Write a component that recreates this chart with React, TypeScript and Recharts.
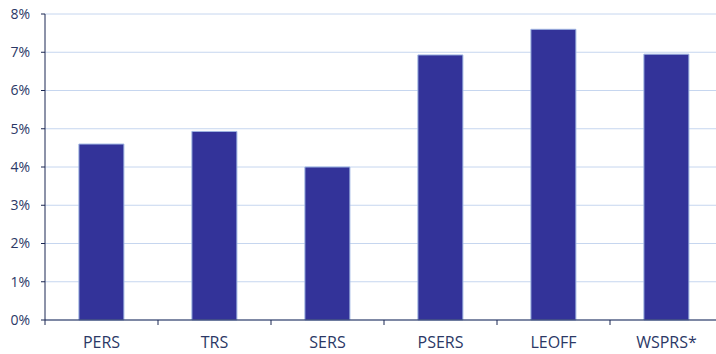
import { BarChart, Bar, XAxis, YAxis, CartesianGrid } from 'recharts';

const plans = ['PERS', 'TRS', 'SERS', 'PSERS', 'LEOFF', 'WSPRS*'];
const rates = [4.6, 4.93, 4.0, 6.93, 7.6, 6.95];
const yTicks = [0, 1, 2, 3, 4, 5, 6, 7, 8];

const data = plans.map((plan, i) => ({ plan, rate: rates[i] }));

const ink = '#2b3866';
const axisInk = '#1b2752';
const font = "'Open Sans', 'DejaVu Sans', sans-serif";

// category label with the divider tick drawn at the left edge of its band
function PlanTick(props: any) {
  const { x, y, payload } = props;
  const half = payload?.offset ?? 0;
  return (
    <g>
      <line x1={x - half} x2={x - half} y1={y} y2={y + 5} stroke={axisInk} />
      <text x={x} y={y + 28} textAnchor="middle" fontSize={16} fill={ink} fontFamily={font}>
        {payload.value}
      </text>
    </g>
  );
}

export default function App() {
  return (
    <div style={{ position: 'absolute', left: 0, top: 0, width: 716, height: 354, overflow: 'hidden', background: '#fff' }}>
      <BarChart
        width={730}
        height={354}
        data={data}
        margin={{ top: 14, right: 7, left: 0, bottom: 0 }}
        barCategoryGap="30%"
      >
        <CartesianGrid stroke="#c6d6ef" vertical={false} />
        <XAxis
          dataKey="plan"
          height={34}
          axisLine={{ stroke: axisInk }}
          tickLine={false}
          tickSize={0}
          tickMargin={0}
          interval={0}
          tick={<PlanTick />}
        />
        <YAxis
          width={45}
          domain={[0, 8]}
          ticks={yTicks}
          tickFormatter={(v: number) => `${v}%`}
          tickSize={4}
          tickMargin={11}
          axisLine={{ stroke: axisInk }}
          tickLine={{ stroke: axisInk }}
          tick={{ fontSize: 14, fill: ink, fontFamily: font }}
        />
        <Bar dataKey="rate" fill="#333399" stroke="#9fb5e2" strokeWidth={1} isAnimationActive={false} />
      </BarChart>
    </div>
  );
}
